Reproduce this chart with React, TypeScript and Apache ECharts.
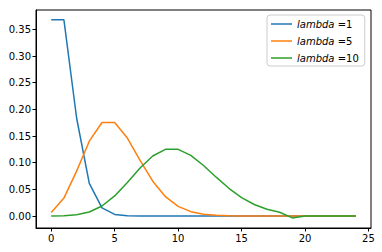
import React, { useEffect, useRef } from "react";
import * as echarts from "echarts";

const ks = [0,1,2,3,4,5,6,7,8,9,10,11,12,13,14,15,16,17,18,19,20,21,22,23,24];
const lambda1 = [0.3679,0.3679,0.1839,0.0613,0.0153,0.0031,0.0005,0.0001,0,0,0,0,0,0,0,0,0,0,0,0,0,0,0,0,0];
const lambda5 = [0.0067,0.0337,0.0842,0.1404,0.1755,0.1755,0.1462,0.1044,0.0653,0.0363,0.0181,0.0082,0.0034,0.0013,0.0005,0.0002,0.0001,0,0,0,0,0,0,0,0];
const lambda10 = [0.0000,0.0005,0.0023,0.0076,0.0189,0.0378,0.0631,0.0901,0.1126,0.1251,0.1251,0.1137,0.0948,0.0729,0.0521,0.0347,0.0217,0.0128,0.0071,-0.0035,0.0002,0.0001,0,0,0];
const seriesNames = ["1", "5", "10"];
const xTicks = [0,5,10,15,20,25];
const yTicks = [0,0.05,0.1,0.15,0.2,0.25,0.3,0.35];

export default function App() {
  const ref = useRef<HTMLDivElement>(null);
  useEffect(() => {
    const chart = echarts.init(ref.current!, null, { renderer: "svg" });
    const colors = ["#1f77b4", "#ff7f0e", "#2ca02c"];
    const data = [lambda1, lambda5, lambda10];
    const font = "DejaVu Sans";
    chart.setOption({
      animation: false,
      grid: { left: 36, right: 11, top: 10, bottom: 24, show: true, borderColor: "#000", borderWidth: 1, backgroundColor: "transparent" },
      xAxis: {
        type: "value", min: -1.2, max: 25.2,
        axisLine: { show: true, onZero: false, lineStyle: { color: "#000", width: 1 } },
        axisTick: { show: true, length: 3.5, customValues: xTicks, lineStyle: { color: "#000" } },
        axisLabel: { customValues: xTicks, color: "#000", fontSize: 10, fontFamily: font, margin: 5 },
        splitLine: { show: false },
      },
      yAxis: {
        type: "value", min: -0.0224, max: 0.3864,
        axisLine: { show: true, onZero: false, lineStyle: { color: "#000", width: 1 } },
        axisTick: { show: true, length: 3.5, customValues: yTicks, lineStyle: { color: "#000" } },
        axisLabel: { customValues: yTicks, color: "#000", fontSize: 10, fontFamily: font, margin: 5, formatter: (v: number) => v.toFixed(2) },
        splitLine: { show: false },
      },
      legend: {
        orient: "vertical", left: 267, top: 15,
        backgroundColor: "rgba(255,255,255,0.8)", borderColor: "#ccc", borderWidth: 1, borderRadius: 3,
        padding: [4, 6, 3, 4], itemWidth: 21, itemHeight: 10, itemGap: 7,
        icon: "path://M0,4.25 L21,4.25 L21,5.75 L0,5.75 Z",
        formatter: (name: string) => `{i|lambda} ={n|${name.split("=")[1]}}`,
        textStyle: {
          color: "#000", fontSize: 10, fontFamily: font,
          rich: {
            i: { fontStyle: "italic", fontSize: 10, fontFamily: font, color: "#000" },
            n: { fontSize: 10, fontFamily: font, color: "#000" },
          },
        },
      },
      series: data.map((d, i) => ({
        name: "lambda =" + seriesNames[i],
        type: "line",
        showSymbol: false,
        symbol: "none",
        color: colors[i],
        lineStyle: { width: 1.5, color: colors[i] },
        data: ks.map((k, j) => [k, d[j]]),
      })),
    });
    return () => chart.dispose();
  }, []);
  return <div ref={ref} style={{ width: 382, height: 252, position: "absolute", left: 0, top: 0 }} />;
}
